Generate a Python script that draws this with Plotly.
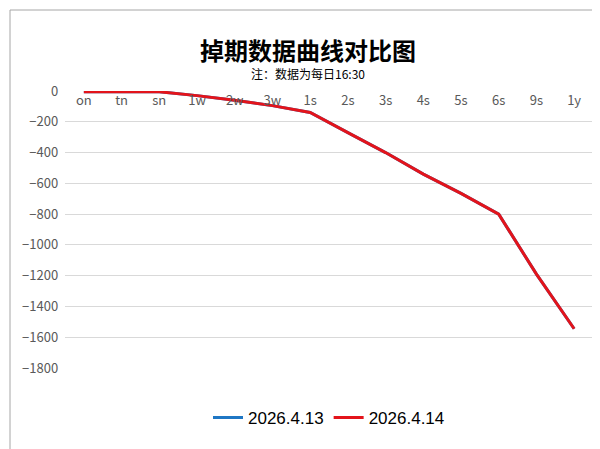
import plotly.graph_objects as go

tenors = ["on", "tn", "sn", "1w", "2w", "3w", "1s", "2s", "3s", "4s", "5s", "6s", "9s", "1y"]
vals_0413 = [-5, -5, -5, -30, -60, -95, -140, -270, -400, -540, -665, -800, -1190, -1545]
vals_0414 = [-5, -5, -5, -30, -60, -95, -140, -270, -400, -540, -665, -800, -1190, -1545]

W, H = 600, 449
ml, mr, mt, mb = 57, 15, 83, 89
pw, ph = W - ml - mr, H - mt - mb

fig = go.Figure()
fig.add_trace(go.Scatter(x=tenors, y=vals_0413, mode="lines", name="2026.4.13",
                         line=dict(color="#1f77c4", width=3)))
fig.add_trace(go.Scatter(x=tenors, y=vals_0414, mode="lines", name="2026.4.14",
                         line=dict(color="#e3141b", width=3)))

fig.update_layout(
    width=W, height=H, margin=dict(l=ml, r=mr, t=mt, b=mb),
    paper_bgcolor="white", plot_bgcolor="white",
    font=dict(family="Noto Sans CJK SC", color="#595959"),
    showlegend=True,
    legend=dict(orientation="h", x=0.5, xanchor="center", y=-0.18, yanchor="middle",
                font=dict(size=17, color="#000000", family="Liberation Sans")),
    xaxis=dict(type="category", range=[-0.5, 13.5], anchor="free", position=1,
               showgrid=False, showline=False, ticks="",
               tickfont=dict(size=13, color="#595959")),
    yaxis=dict(range=[-1800, 0], dtick=200, showgrid=True, gridcolor="#d9d9d9",
               zeroline=False, tickfont=dict(size=13, color="#595959"), ticksuffix="  "),
    shapes=[dict(type="rect", xref="paper", yref="paper",
                 x0=-(ml - 2) / pw, x1=1 + (mr - 3) / pw,
                 y0=-(mb - 3) / ph, y1=1 + (mt - 2) / ph,
                 line=dict(color="#a6a6a6", width=1))],
    annotations=[
        dict(text="<b>掉期数据曲线对比图</b>", xref="paper", yref="paper",
             x=0.5 - (ml - mr) / 2 / pw, y=1 + (mt - 22) / ph, showarrow=False,
             font=dict(size=24, color="#000000", family="Noto Sans CJK SC")),
        dict(text="注：数据为每日16:30", xref="paper", yref="paper",
             x=0.5 - (ml - mr) / 2 / pw, y=1 + (mt - 55) / ph, showarrow=False,
             font=dict(size=12, color="#000000", family="Noto Sans CJK SC")),
    ],
)

fig.write_html("out.html")
